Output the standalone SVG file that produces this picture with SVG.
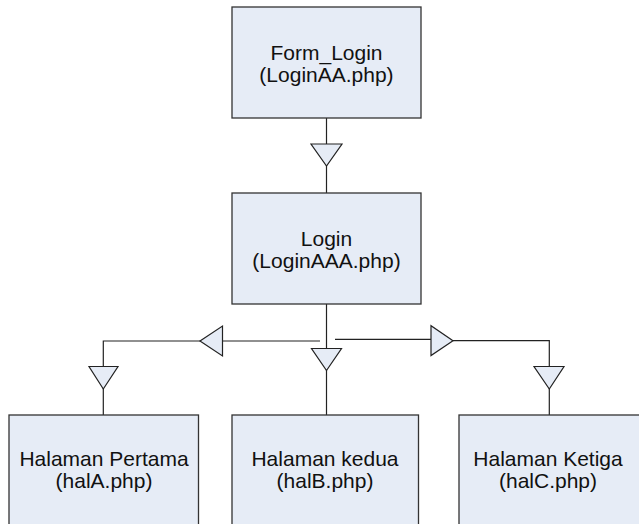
<svg xmlns="http://www.w3.org/2000/svg" width="639" height="524" viewBox="0 0 639 524">
<style>
.box{fill:#e6ecf6;stroke:#333;stroke-width:1.3}
.tri{fill:#e6ecf6;stroke:#222;stroke-width:1.2;stroke-linejoin:miter}
.ln{fill:none;stroke:#222;stroke-width:1.2}
text{font-family:"Liberation Sans",Arial,sans-serif;font-size:21px;fill:#111;text-anchor:middle}
</style>
<rect width="639" height="524" fill="#fff"/>
<g id="connectors">
<line class="ln" x1="326.5" y1="118" x2="326.5" y2="193"/>
<polygon class="tri" points="311,144 342,144 326.5,166"/>
<line class="ln" x1="326.5" y1="304" x2="326.5" y2="415"/>
<polygon class="tri" points="311.5,348.5 341.5,348.5 326.5,370.5"/>
<polyline class="ln" points="320,341 103.3,341 103.3,415"/>
<polygon class="tri" points="222.5,326 222.5,356 200,341"/>
<polygon class="tri" points="89,366.5 118,366.5 103.3,389"/>
<polyline class="ln" points="335,339.3 431,339.3"/>
<polyline class="ln" points="453,340.7 549.3,340.7 549.3,415"/>
<polygon class="tri" points="431,325.7 431,355.5 453,340.7"/>
<polygon class="tri" points="534,366.5 564,366.5 549.3,389"/>
</g>
<g id="form_login">
<rect class="box" x="232" y="7" width="189" height="111"/>
<text x="326.5" y="60">Form_Login</text>
<text x="326.5" y="82">(LoginAA.php)</text>
</g>
<g id="login">
<rect class="box" x="232" y="193" width="189" height="111"/>
<text x="326.5" y="246">Login</text>
<text x="326.5" y="268">(LoginAAA.php)</text>
</g>
<g id="halA">
<rect class="box" x="9" y="415" width="189.5" height="120"/>
<text x="104" y="466">Halaman Pertama</text>
<text x="104" y="488">(halA.php)</text>
</g>
<g id="halB">
<rect class="box" x="232" y="415" width="186.5" height="120"/>
<text x="325" y="466">Halaman kedua</text>
<text x="325" y="488">(halB.php)</text>
</g>
<g id="halC">
<rect class="box" x="459" y="415" width="200" height="120"/>
<text x="548" y="466">Halaman Ketiga</text>
<text x="548" y="488">(halC.php)</text>
</g>
</svg>
